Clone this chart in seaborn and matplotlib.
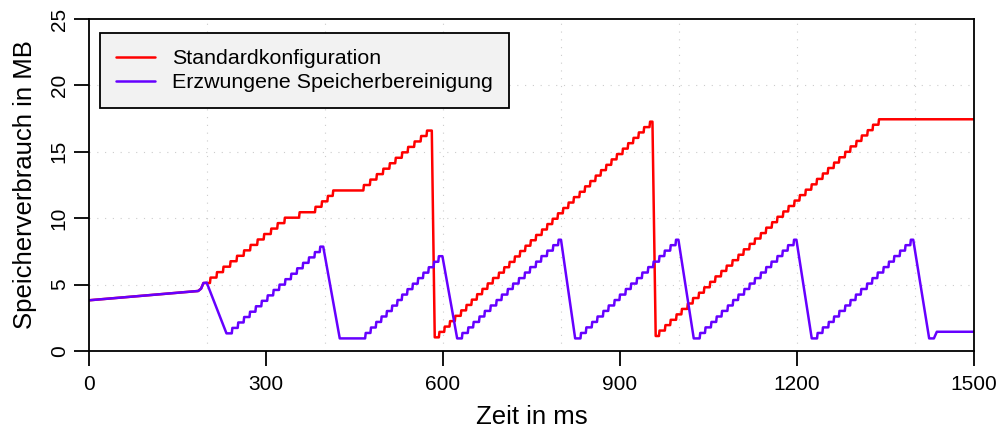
import matplotlib
matplotlib.use("Agg")
import matplotlib.pyplot as plt
import pandas as pd
import seaborn as sns

# Anfangsphase (beide Konfigurationen gleich)
start_zeit = [0, 185, 190, 194]
start_mb = [3.82, 4.52, 4.70, 5.12]

# Standardkonfiguration: Sprungzeitpunkte (ms) und Niveau danach (MB)
rot_sprung_1 = [205, 216, 227, 239, 250, 262, 273, 285, 296, 308, 319, 331, 356, 383,
                394, 404, 413, 465, 476, 487, 498, 509, 519, 530, 540, 551, 562, 572]
rot_niveau_1 = [5.53, 5.94, 6.35, 6.76, 7.17, 7.58, 7.99, 8.40, 8.81, 9.22, 9.63, 10.04, 10.45, 10.86,
                11.27, 11.68, 12.09, 12.50, 12.91, 13.32, 13.73, 14.14, 14.55, 14.96, 15.37, 15.78, 16.19, 16.60]
rot_sprung_2 = [593, 602, 611, 620, 630, 639, 648, 657, 666, 675, 684, 694, 703, 712, 721, 730, 739, 748, 757, 767,
                776, 785, 794, 803, 812, 821, 831, 840, 849, 858, 867, 876, 885, 894, 904, 913, 922, 931, 940, 950]
rot_niveau_2 = [1.44, 1.84, 2.25, 2.65, 3.06, 3.47, 3.87, 4.28, 4.68, 5.09, 5.50, 5.90, 6.31, 6.71, 7.12, 7.53, 7.93, 8.34, 8.74, 9.15,
                9.56, 9.96, 10.37, 10.77, 11.18, 11.59, 11.99, 12.40, 12.80, 13.21, 13.62, 14.02, 14.43, 14.83, 15.24, 15.65, 16.05, 16.46, 16.86, 17.27]
rot_sprung_3 = [966, 976, 985, 995, 1004, 1014, 1023, 1033, 1042, 1052, 1061, 1071, 1080, 1090, 1100, 1109, 1119, 1128, 1138, 1147,
                1157, 1166, 1176, 1185, 1195, 1204, 1214, 1224, 1233, 1243, 1252, 1262, 1271, 1281, 1290, 1300, 1309, 1319, 1328, 1338]
rot_niveau_3 = [1.54, 1.95, 2.35, 2.76, 3.17, 3.58, 3.99, 4.39, 4.80, 5.21, 5.62, 6.03, 6.43, 6.84, 7.25, 7.66, 8.07, 8.47, 8.88, 9.29,
                9.70, 10.11, 10.51, 10.92, 11.33, 11.74, 12.15, 12.55, 12.96, 13.37, 13.78, 14.19, 14.59, 15.00, 15.41, 15.82, 16.23, 16.63, 17.04, 17.45]

# Erzwungene Speicherbereinigung
lila_sprung_1 = [242, 252, 262, 272, 282, 292, 302, 312, 322, 332, 342, 352, 362, 372, 382, 391]
lila_niveau_1 = [1.74, 2.15, 2.56, 2.96, 3.37, 3.78, 4.19, 4.60, 5.00, 5.41, 5.82, 6.23, 6.64, 7.05, 7.45, 7.86]
lila_sprung_2 = [468, 477, 486, 495, 504, 513, 522, 530, 539, 548, 557, 566, 575, 584, 592]
lila_niveau_2 = [1.36, 1.77, 2.19, 2.60, 3.01, 3.42, 3.84, 4.25, 4.66, 5.07, 5.49, 5.90, 6.31, 6.72, 7.14]
lila_sprung_3 = [632, 642, 651, 661, 670, 680, 690, 699, 709, 718, 728, 738, 747, 757, 766, 776, 786, 795]
lila_sprung_4 = [833, 842, 852, 861, 871, 880, 890, 899, 909, 918, 928, 937, 947, 956, 966, 975, 985, 994]
lila_sprung_5 = [1035, 1044, 1054, 1063, 1072, 1082, 1091, 1100, 1110, 1119, 1128, 1138, 1147, 1156, 1166, 1175, 1184, 1194]
lila_sprung_6 = [1234, 1243, 1253, 1262, 1271, 1281, 1290, 1299, 1308, 1318, 1327, 1336, 1346, 1355, 1364, 1374, 1383, 1392]
lila_niveau = [1.36, 1.78, 2.19, 2.60, 3.02, 3.43, 3.84, 4.25, 4.67, 5.08, 5.49, 5.91, 6.32, 6.73, 7.15, 7.56, 7.97, 8.38]

reihen = ["Standardkonfiguration", "Erzwungene Speicherbereinigung"]
farben = ["#FF0000", "#6600FF"]


def treppe(sprung, niveau, start):
    zeit, mb = [], []
    alt = start
    for t, n in zip(sprung, niveau):
        zeit += [t, t + 1]
        mb += [alt, n]
        alt = n
    return zeit, mb


def kurve(teile):
    zeit, mb = [], []
    for z, m in teile:
        zeit += list(z)
        mb += list(m)
    return zeit, mb


rot = kurve([
    (start_zeit, start_mb),
    treppe(rot_sprung_1, rot_niveau_1, 5.12),
    ([581, 586], [16.60, 1.03]),
    treppe(rot_sprung_2, rot_niveau_2, 1.03),
    ([955, 960.5], [17.27, 1.13]),
    treppe(rot_sprung_3, rot_niveau_3, 1.13),
    ([1500], [17.45]),
])

lila = kurve([
    (start_zeit, start_mb),
    ([199.5, 233], [5.15, 1.33]),
    treppe(lila_sprung_1, lila_niveau_1, 1.33),
    ([397, 425], [7.86, 0.95]),
    treppe(lila_sprung_2, lila_niveau_2, 0.95),
    ([599, 624], [7.14, 0.95]),
    treppe(lila_sprung_3, lila_niveau, 0.95),
    ([800, 824], [8.38, 0.95]),
    treppe(lila_sprung_4, lila_niveau, 0.95),
    ([999, 1025], [8.38, 0.95]),
    treppe(lila_sprung_5, lila_niveau, 0.95),
    ([1199, 1225], [8.38, 0.95]),
    treppe(lila_sprung_6, lila_niveau, 0.95),
    ([1397, 1424, 1432, 1437, 1500], [8.38, 0.95, 0.95, 1.45, 1.45]),
])

df = pd.concat([
    pd.DataFrame({"zeit": rot[0], "mb": rot[1], "reihe": reihen[0]}),
    pd.DataFrame({"zeit": lila[0], "mb": lila[1], "reihe": reihen[1]}),
])

sns.set_style("ticks")
plt.rcParams["font.family"] = ["Liberation Sans", "DejaVu Sans"]
plt.rcParams["text.color"] = "black"
plt.rcParams["axes.labelcolor"] = "black"
plt.rcParams["xtick.color"] = "black"
plt.rcParams["ytick.color"] = "black"

fig = plt.figure(figsize=(10, 4.34), dpi=100)
ax = fig.add_axes([0.089, 0.1912, 0.885, 0.765])

# Gitter (gepunktet)
for x in range(200, 1500, 200):
    ax.axvline(x, color="#cccccc", lw=0.8, ls=(0, (1, 6)), zorder=0)
for y in range(5, 25, 5):
    ax.axhline(y, color="#cccccc", lw=0.8, ls=(0, (1, 6)), zorder=0)

sns.lineplot(data=df, x="zeit", y="mb", hue="reihe", hue_order=reihen,
             palette=dict(zip(reihen, farben)), estimator=None, sort=False,
             lw=1.8, ax=ax)

ax.set_xlim(0, 1500)
ax.set_ylim(0, 25)
ax.set_xticks(range(0, 1501, 300))
ax.set_yticks(range(0, 26, 5))
ax.tick_params(axis="both", direction="out", length=11, width=1.3, labelsize=15, color="black")
ax.tick_params(axis="x", pad=6)
ax.tick_params(axis="y", pad=3.5)
for lab in ax.get_yticklabels():
    lab.set_rotation(90)
    lab.set_va("center")
for s in ax.spines.values():
    s.set_linewidth(1.3)
    s.set_color("black")

ax.set_xlabel("Zeit in ms", fontsize=18.5, labelpad=8)
ax.set_ylabel("Speicherverbrauch in MB", fontsize=18.5, labelpad=9)

handles, labels = ax.get_legend_handles_labels()
for h in handles:
    h.set_linewidth(1.8)
leg = ax.legend(handles, labels, loc="upper left", bbox_to_anchor=(0.0124, 0.958),
                borderaxespad=0, fontsize=15.4, frameon=True, fancybox=False,
                edgecolor="black", facecolor="#f2f2f2", framealpha=1,
                handlelength=1.8, handletextpad=0.8, labelspacing=0.25, borderpad=0.75)
leg.get_frame().set_linewidth(1.3)

fig.savefig("out.png", dpi=100)
